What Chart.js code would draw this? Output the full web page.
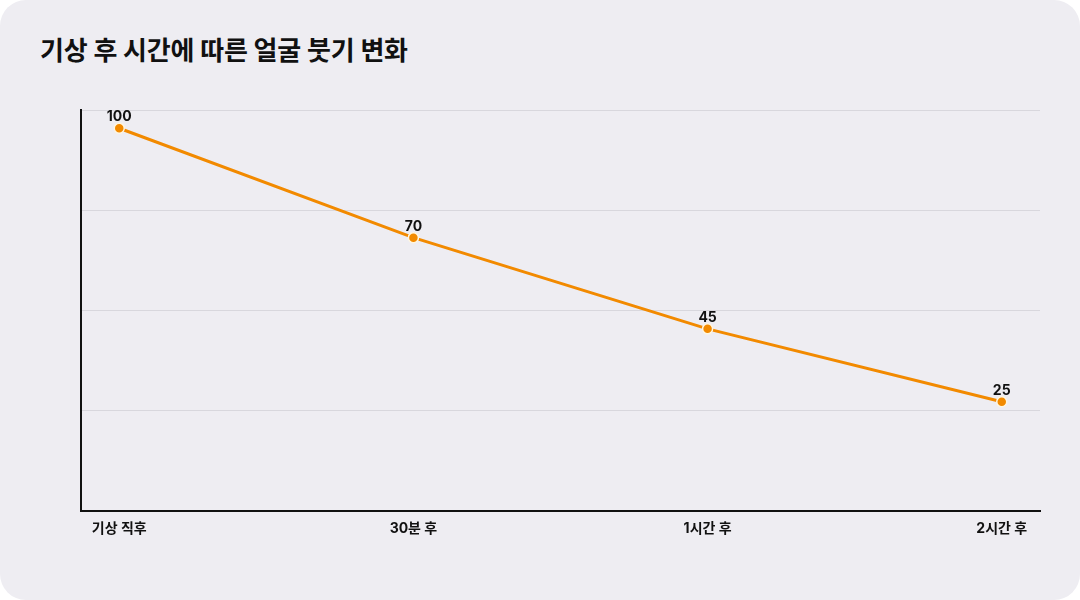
<!DOCTYPE html>
<html lang="ko">
<head>
<meta charset="utf-8">
<script src="https://cdn.jsdelivr.net/npm/chart.js@4.4.1/dist/chart.umd.min.js"></script>
<style>
  html, body { margin: 0; padding: 0; background: #ffffff; }
  .card {
    position: relative;
    width: 1080px;
    height: 600px;
    background: #eeedf2;
    border-radius: 26px;
    overflow: hidden;
    font-family: "Inter", "Noto Sans CJK KR", sans-serif;
  }
  .card h1 {
    position: absolute;
    left: 40px;
    top: 30px;
    margin: 0;
    font-size: 26px;
    font-weight: 700;
    color: #111111;
    letter-spacing: -0.2px;
  }
  #chart { position: absolute; left: 0; top: 0; }
</style>
</head>
<body>
<div class="card">
  <h1>기상 후 시간에 따른 얼굴 붓기 변화</h1>
  <canvas id="chart" width="1080" height="600"></canvas>
</div>
<script>
// 데이터
const categories = ['기상 직후', '30분 후', '1시간 후', '2시간 후'];
const swelling = [100, 70, 45, 25];

const FONT = '"Inter", "Noto Sans CJK KR", sans-serif';
const ORANGE = '#f28a00';

// 점 위에 값 표시
const valueLabels = {
  id: 'valueLabels',
  afterDatasetsDraw(chart) {
    const ctx = chart.ctx;
    const meta = chart.getDatasetMeta(0);
    ctx.save();
    ctx.font = `700 14px ${FONT}`;
    ctx.fillStyle = '#111111';
    ctx.textAlign = 'center';
    ctx.textBaseline = 'middle';
    meta.data.forEach((pt, i) => {
      ctx.fillText(String(swelling[i]), pt.x, pt.y - 11);
    });
    ctx.restore();
  }
};

const ctx = document.getElementById('chart').getContext('2d');
new Chart(ctx, {
  type: 'line',
  data: {
    datasets: [{
      data: swelling.map((v, i) => ({ x: i, y: v })),
      borderColor: ORANGE,
      borderWidth: 3,
      pointBackgroundColor: ORANGE,
      pointBorderColor: '#fff6e0',
      pointBorderWidth: 1.5,
      pointRadius: 5,
      tension: 0
    }]
  },
  options: {
    responsive: false,
    animation: false,
    layout: { padding: { top: 110, left: 81, right: 40, bottom: 62 } },
    plugins: {
      legend: { display: false },
      tooltip: { enabled: false }
    },
    scales: {
      x: {
        type: 'linear',
        min: -0.13,
        max: 3.13,
        afterBuildTicks: axis => { axis.ticks = categories.map((c, i) => ({ value: i })); },
        grid: { display: false },
        border: { color: '#111111', width: 2 },
        ticks: {
          padding: 1,
          color: '#111111',
          font: { family: FONT, size: 14, weight: '700' },
          callback: v => categories[v]
        }
      },
      y: {
        min: -5,
        max: 105,
        ticks: { display: false, count: 5 },
        grid: { color: '#d8d7dd', lineWidth: 1, drawTicks: false },
        border: { color: '#111111', width: 2 }
      }
    }
  },
  plugins: [valueLabels]
});
</script>
</body>
</html>
